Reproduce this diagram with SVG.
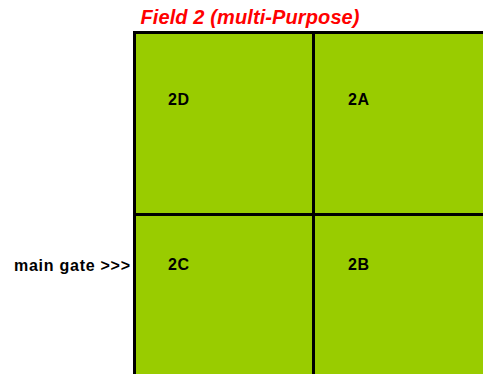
<svg xmlns="http://www.w3.org/2000/svg" width="483" height="374" viewBox="0 0 483 374">
<style>
.q{fill:#99cc00;stroke:#000;stroke-width:3}
.lbl{font-family:"Liberation Sans",Arial,sans-serif;font-weight:bold;font-size:16px;fill:#000;letter-spacing:0.5px}
.title{font-family:"Liberation Sans",Arial,sans-serif;font-weight:bold;font-style:italic;font-size:20px;fill:#ff0000}
</style>
<rect width="483" height="374" fill="#fff"/>
<text class="title" x="140.5" y="24" textLength="219">Field 2 (multi-Purpose)</text>
<g id="q2D"><rect class="q" x="134.5" y="32.5" width="179" height="182"/><text class="lbl" x="168" y="105">2D</text></g>
<g id="q2A"><rect class="q" x="313.5" y="32.5" width="180" height="182"/><text class="lbl" x="348" y="105">2A</text></g>
<g id="q2C"><rect class="q" x="134.5" y="214.5" width="179" height="170"/><text class="lbl" x="168" y="270">2C</text></g>
<g id="q2B"><rect class="q" x="313.5" y="214.5" width="180" height="170"/><text class="lbl" x="348" y="270">2B</text></g>
<g id="connectors"></g>
<text class="lbl" style="letter-spacing:0" x="14" y="270.5" textLength="116">main gate &gt;&gt;&gt;</text>
</svg>
